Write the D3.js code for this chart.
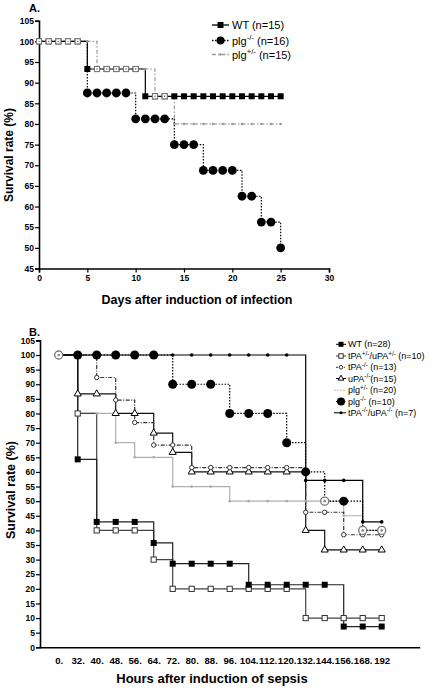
<!DOCTYPE html>
<html><head><meta charset="utf-8">
<script src="https://cdn.jsdelivr.net/npm/d3@7"></script>
<style>body{margin:0;background:#fff}svg{display:block}text{font-family:Arial,"Liberation Sans",sans-serif}</style>
</head><body><div id="c"></div>
<script>
// ---------- Panel A data ----------
const daysA = [0,1,2,3,4,5,6,7,8,9,10,11,12,13,14,15,16,17,18,19,20,21,22,23,24,25];
const wtA    = [100,100,100,100,100,93.3,93.3,93.3,93.3,93.3,93.3,86.7,86.7,86.7,86.7,86.7,86.7,86.7,86.7,86.7,86.7,86.7,86.7,86.7,86.7,86.7];
const plgKOA = [100,100,100,100,100,87.5,87.5,87.5,87.5,87.5,81.25,81.25,81.25,81.25,75,75,75,68.75,68.75,68.75,68.75,62.5,62.5,56.25,56.25,50];
const plgHetA= [100,100,100,100,100,100,93.3,93.3,93.3,93.3,93.3,93.3,86.7,86.7,80,80,80,80,80,80,80,80,80,80,80,80];
const yTicksA = [45,50,55,60,65,70,75,80,85,90,95,100,105];
const xTicksA = [0,5,10,15,20,25,30];
const legendA = ["WT (n=15)","plg-/- (n=16)","plg+/- (n=15)"];

// ---------- Panel B data ----------
const hoursB = ["0.","32.","40.","48.","56.","64.","72.","80.","88.","96.","104.","112.","120.","132.","144.","156.","168.","192"];
const wtB      = [100,64.3,42.9,42.9,42.9,35.7,28.6,28.6,28.6,28.6,21.4,21.4,21.4,21.4,21.4,7.1,7.1,7.1];
const tpaUpaHet= [100,80,40,40,40,30,20,20,20,20,20,20,20,10,10,10,10,10];
const tpaKO    = [100,100,92.3,84.6,76.9,69.2,69.2,61.5,61.5,61.5,61.5,61.5,61.5,46.2,46.2,38.5,38.5,38.5];
const upaKO    = [100,86.7,86.7,80,80,73.3,66.7,60,60,60,60,60,60,40,33.3,33.3,33.3,33.3];
const plgHetB  = [100,80,80,70,65,65,55,55,55,50,50,50,50,50,50,45,40,40];
const plgKOB   = [100,100,100,100,100,100,90,90,90,80,80,80,70,60,50,50,40,40];
const tpaUpaKO = [100,100,100,100,100,100,100,100,100,100,100,100,100,57.1,57.1,57.1,42.9,42.9];
const yTicksB = [0,5,10,15,20,25,30,35,40,45,50,55,60,65,70,75,80,85,90,95,100,105];
const legendB = ["WT (n=28)","tPA+/-/uPA+/- (n=10)","tPA-/- (n=13)","uPA-/-(n=15)","plg+/- (n=20)","plg-/-  (n=10)","tPA-/-/uPA-/- (n=7)"];

// ---------- drawing ----------
const svg = d3.select("#c").append("svg").attr("width",430).attr("height",689);

function supText(g, x, y, parts, size){
  const t = g.append("text").attr("x",x).attr("y",y).attr("font-size",size).attr("fill","#000");
  let prevSup=false;
  parts.forEach(p=>{
    if(typeof p==="string"){
      const s=t.append("tspan").text(p);
      if(prevSup) s.attr("dy",size*0.38);
      prevSup=false;
    } else {
      t.append("tspan").attr("font-size",size*0.7).attr("dy",-size*0.38).text(p.sup);
      prevSup=true;
    }
  });
  return t;
}
function splitLabel(s){
  const out=[]; const re=/([+\-]\/[+\-])/g; let last=0,m;
  while((m=re.exec(s))){ if(m.index>last) out.push(s.slice(last,m.index)); out.push({sup:m[1]}); last=m.index+m[1].length; }
  if(last<s.length) out.push(s.slice(last));
  return out;
}

// ===== Panel A =====
const xA = d3.scaleLinear().domain([0,30]).range([39,329]);
const yA = d3.scaleLinear().domain([45,105]).range([268.5,20.7]);
const gA = svg.append("g");

const axYA = d3.axisLeft(yA).tickValues(yTicksA).tickSize(4).tickPadding(1).tickFormat(d3.format("d"));
gA.append("g").attr("transform","translate(39,0)").call(axYA);
const axXA = d3.axisBottom(xA).tickValues(xTicksA).tickSize(4).tickPadding(2).tickFormat(d3.format("d"));
gA.append("g").attr("transform","translate(0,268.5)").call(axXA);
gA.selectAll(".domain").attr("stroke","#000").attr("stroke-width",1.6);
gA.selectAll(".tick line").attr("stroke","#000").attr("stroke-width",1.2);
gA.selectAll(".tick text").attr("font-size",8.5).attr("font-weight","bold").attr("font-family","Arial");

const stepA = vals => d3.line().x((d,i)=>xA(daysA[i])).y(d=>yA(d)).curve(d3.curveStepAfter)(vals);
gA.append("path").attr("d",stepA(plgHetA)).attr("fill","none").attr("stroke","#9a9a9a").attr("stroke-width",1.2).attr("stroke-dasharray","4,2,1.5,2");
gA.append("path").attr("d",stepA(wtA)).attr("fill","none").attr("stroke","#000").attr("stroke-width",1.2);
gA.append("path").attr("d",stepA(plgKOA)).attr("fill","none").attr("stroke","#000").attr("stroke-width",1.2).attr("stroke-dasharray","1.5,1.5");

wtA.forEach((v,i)=>{
  gA.append("rect").attr("x",xA(daysA[i])-3).attr("y",yA(v)-3).attr("width",6).attr("height",6).attr("fill","#000");
});
plgKOA.forEach((v,i)=>{
  if(v<100) gA.append("circle").attr("cx",xA(daysA[i])).attr("cy",yA(v)).attr("r",4.4).attr("fill","#000");
});
const hetSquareDays = [0,1,2,3,4,6,7,8,9,10,12,13];
plgHetA.forEach((v,i)=>{
  const day=daysA[i];
  if(hetSquareDays.includes(day)){
    gA.append("rect").attr("x",xA(day)-2.6).attr("y",yA(v)-2.6).attr("width",5.2).attr("height",5.2)
      .attr("fill","#fff").attr("stroke","#777").attr("stroke-width",1);
    gA.append("circle").attr("cx",xA(day)).attr("cy",yA(v)).attr("r",0.7).attr("fill","#555");
  } else {
    gA.append("circle").attr("cx",xA(day)).attr("cy",yA(v)).attr("r",1.3).attr("fill","#999");
  }
});

const legA = gA.append("g");
const legAy=[25,40.5,54.5];
legA.append("line").attr("x1",212).attr("x2",229).attr("y1",legAy[0]).attr("y2",legAy[0]).attr("stroke","#000").attr("stroke-width",1.3);
legA.append("rect").attr("x",217.5).attr("y",legAy[0]-3).attr("width",6).attr("height",6);
legA.append("line").attr("x1",212).attr("x2",229).attr("y1",legAy[1]).attr("y2",legAy[1]).attr("stroke","#000").attr("stroke-width",1.3).attr("stroke-dasharray","1.5,1.5");
legA.append("circle").attr("cx",220.5).attr("cy",legAy[1]).attr("r",4);
legA.append("line").attr("x1",212).attr("x2",229).attr("y1",legAy[2]).attr("y2",legAy[2]).attr("stroke","#9a9a9a").attr("stroke-width",1.3).attr("stroke-dasharray","4,2,1.5,2");
legA.append("circle").attr("cx",220.5).attr("cy",legAy[2]).attr("r",1.3).attr("fill","#999");
legendA.forEach((s,i)=>supText(legA,232,legAy[i]+4,splitLabel(s),11));

gA.append("text").attr("x",29).attr("y",11.5).attr("font-size",11).attr("font-weight","bold").text("A.");
gA.append("text").attr("transform","translate(13,155) rotate(-90)").attr("text-anchor","middle")
  .attr("font-size",12).attr("font-weight","bold").text("Survival rate (%)");
gA.append("text").attr("x",197).attr("y",304).attr("text-anchor","middle")
  .attr("font-size",12.5).attr("font-weight","bold").text("Days after induction of infection");

// ===== Panel B =====
const xB = d3.scaleLinear().domain([-1,19]).range([39.7,419.7]);
const yB = d3.scaleLinear().domain([0,105]).range([647.3,340.4]);
const gB = svg.append("g");
const axYB = d3.axisLeft(yB).tickValues(yTicksB).tickSize(4).tickPadding(1).tickFormat(d3.format("d"));
gB.append("g").attr("transform","translate(40,0)").call(axYB);
const axXB = d3.axisBottom(xB).tickValues(d3.range(hoursB.length)).tickSize(0).tickPadding(10).tickFormat(i=>hoursB[i]);
const gxB = gB.append("g").attr("transform","translate(0,647.3)").call(axXB);
gB.selectAll(".domain").attr("stroke","#000").attr("stroke-width",1.6);
gB.selectAll(".tick line").attr("stroke","#000").attr("stroke-width",1.2);
gB.selectAll(".tick text").attr("font-size",8.5).attr("font-weight","bold").attr("font-family","Arial");
gxB.selectAll(".tick text").attr("font-size",9.6);

const stepB = vals => d3.line().x((d,i)=>xB(i)).y(d=>yB(d)).curve(d3.curveStepAfter)(vals);
const lineSty = [
  [plgHetB,"#b0b0b0",null],
  [tpaUpaHet,"#444",null],
  [wtB,"#222",null],
  [upaKO,"#111",null],
  [tpaKO,"#333","4,1.5,1,1.5"],
  [tpaUpaKO,"#000",null],
  [plgKOB,"#000","1.5,1.5"]
];
lineSty.forEach(([v,c,da])=>{
  const p=gB.append("path").attr("d",stepB(v)).attr("fill","none").attr("stroke",c).attr("stroke-width",1.2);
  if(da) p.attr("stroke-dasharray",da);
});
plgHetB.forEach((v,i)=>{ gB.append("circle").attr("cx",xB(i)).attr("cy",yB(v)).attr("r",1.3).attr("fill","#aaa"); });
tpaUpaHet.forEach((v,i)=>{ if(i>0) gB.append("rect").attr("x",xB(i)-2.6).attr("y",yB(v)-2.6).attr("width",5.2).attr("height",5.2).attr("fill","#fff").attr("stroke","#333").attr("stroke-width",1); });
wtB.forEach((v,i)=>{ if(i>0) gB.append("rect").attr("x",xB(i)-3).attr("y",yB(v)-3).attr("width",6).attr("height",6).attr("fill","#000"); });
const tri = d3.symbol().type(d3.symbolTriangle).size(22);
upaKO.forEach((v,i)=>{ if(i>0) gB.append("path").attr("d",tri()).attr("transform",`translate(${xB(i)},${yB(v)})`).attr("fill","#fff").attr("stroke","#000").attr("stroke-width",1); });
tpaKO.forEach((v,i)=>{ if(i>0) gB.append("circle").attr("cx",xB(i)).attr("cy",yB(v)).attr("r",2.2).attr("fill","#fff").attr("stroke","#333").attr("stroke-width",1); });
tpaUpaKO.forEach((v,i)=>{ gB.append("circle").attr("cx",xB(i)).attr("cy",yB(v)).attr("r",1.8).attr("fill","#000"); });
const plgKOHollow=[0,14,16,17];
plgKOB.forEach((v,i)=>{
  if(plgKOHollow.includes(i)){
    gB.append("circle").attr("cx",xB(i)).attr("cy",yB(v)).attr("r",4).attr("fill","#fff").attr("stroke","#777").attr("stroke-width",1.3);
    gB.append("circle").attr("cx",xB(i)).attr("cy",yB(v)).attr("r",1.3).attr("fill","#888");
  } else gB.append("circle").attr("cx",xB(i)).attr("cy",yB(v)).attr("r",4.5).attr("fill","#000");
});

const legB = gB.append("g");
const lyB=[344.3,356,367.3,378.5,390.2,401.5,412.8];
const lx1=336, lx2=346, lxm=341;
legB.append("line").attr("x1",lx1).attr("x2",lx2).attr("y1",lyB[0]).attr("y2",lyB[0]).attr("stroke","#000");
legB.append("rect").attr("x",lxm-2.5).attr("y",lyB[0]-2.5).attr("width",5).attr("height",5);
legB.append("line").attr("x1",lx1).attr("x2",lx2).attr("y1",lyB[1]).attr("y2",lyB[1]).attr("stroke","#333");
legB.append("rect").attr("x",lxm-2.2).attr("y",lyB[1]-2.2).attr("width",4.4).attr("height",4.4).attr("fill","#fff").attr("stroke","#333");
legB.append("line").attr("x1",lx1).attr("x2",lx2).attr("y1",lyB[2]).attr("y2",lyB[2]).attr("stroke","#333").attr("stroke-dasharray","2,1,1,1");
legB.append("circle").attr("cx",lxm).attr("cy",lyB[2]).attr("r",1.8).attr("fill","#fff").attr("stroke","#333");
legB.append("line").attr("x1",lx1).attr("x2",lx2).attr("y1",lyB[3]).attr("y2",lyB[3]).attr("stroke","#000");
legB.append("path").attr("d",d3.symbol().type(d3.symbolTriangle).size(14)()).attr("transform",`translate(${lxm},${lyB[3]})`).attr("fill","#fff").attr("stroke","#000");
legB.append("line").attr("x1",lx1-2).attr("x2",lx2).attr("y1",lyB[4]).attr("y2",lyB[4]).attr("stroke","#bbb").attr("stroke-dasharray","2,1");
legB.append("line").attr("x1",lx1).attr("x2",lx2).attr("y1",lyB[5]).attr("y2",lyB[5]).attr("stroke","#000").attr("stroke-dasharray","1.2,1.2");
legB.append("circle").attr("cx",lxm).attr("cy",lyB[5]).attr("r",4);
legB.append("line").attr("x1",lx1-2).attr("x2",lx2).attr("y1",lyB[6]).attr("y2",lyB[6]).attr("stroke","#000");
legB.append("circle").attr("cx",lxm).attr("cy",lyB[6]).attr("r",1.5);
legendB.forEach((s,i)=>supText(legB,348,lyB[i]+3,splitLabel(s),9));

gB.append("text").attr("x",29).attr("y",335.5).attr("font-size",11).attr("font-weight","bold")
  .attr("font-family","'Liberation Serif','Times New Roman',serif").text("B.");
gB.append("text").attr("transform","translate(14.5,490) rotate(-90)").attr("text-anchor","middle")
  .attr("font-size",12.5).attr("font-weight","bold").text("Survival rate (%)");
gB.append("text").attr("x",212).attr("y",683).attr("text-anchor","middle")
  .attr("font-size",13).attr("font-weight","bold").text("Hours after induction of sepsis");
</script></body></html>
